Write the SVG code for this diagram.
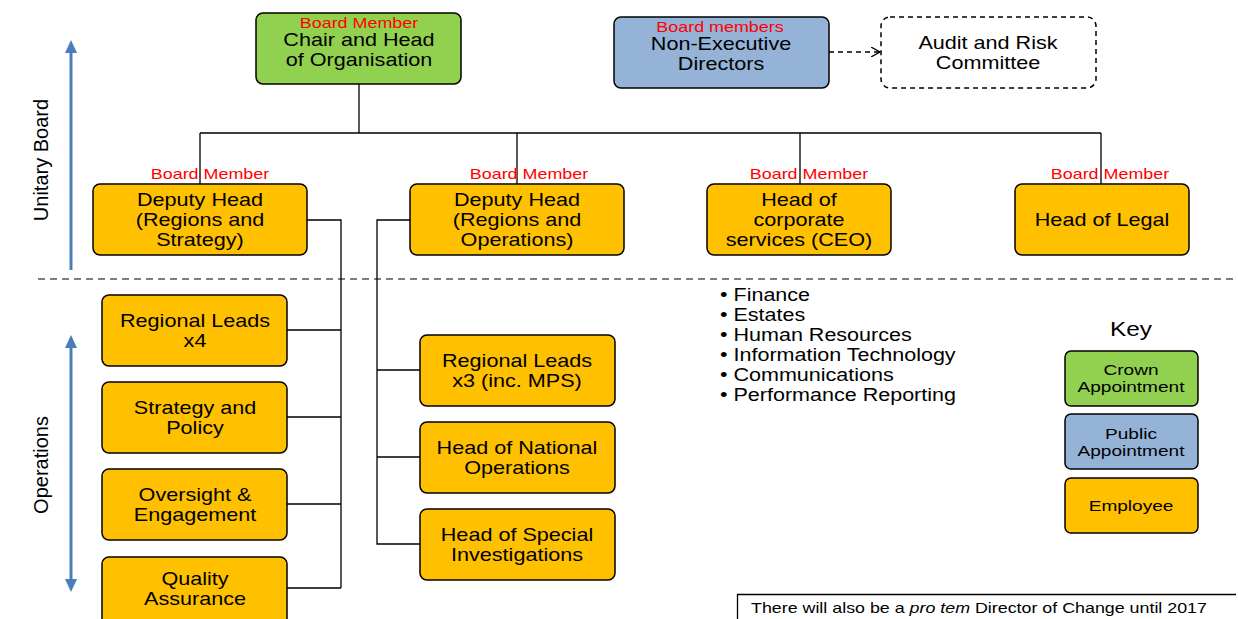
<svg xmlns="http://www.w3.org/2000/svg" width="1238" height="619" viewBox="0 0 1238 619">
<defs>
<style>
text{font-family:"Liberation Sans",Arial,sans-serif;fill:#000}
.t{font-size:18px;text-anchor:middle}
.bm{font-size:14px;fill:#ff0000;text-anchor:middle}
.k{font-size:14px;text-anchor:middle}
.li{font-size:17.5px}
.box{stroke:#000;stroke-width:1.5}
.g{fill:#92d050}
.b{fill:#95b3d7}
.o{fill:#ffc000}
.ln{stroke:#000;stroke-width:1.3;fill:none}
</style>
<marker id="ah" markerWidth="10" markerHeight="10" refX="8" refY="5" orient="auto" markerUnits="userSpaceOnUse">
<path d="M0,0 L9,5 L0,10" fill="none" stroke="#000" stroke-width="1.3"/>
</marker>
<marker id="blue" markerWidth="14" markerHeight="14" refX="7" refY="7" orient="auto" markerUnits="userSpaceOnUse">
<path d="M0,1 L13,7 L0,13 Z" fill="#4a7ebb"/>
</marker>
<marker id="blueS" markerWidth="14" markerHeight="14" refX="7" refY="7" orient="auto-start-reverse" markerUnits="userSpaceOnUse">
<path d="M0,1 L13,7 L0,13 Z" fill="#4a7ebb"/>
</marker>
</defs>
<rect width="1238" height="619" fill="#fff"/>

<g id="sections">
<line x1="38" y1="279" x2="1238" y2="279" stroke="#555" stroke-width="1.3" stroke-dasharray="7,5"/>
<line x1="71" y1="270" x2="71" y2="46" stroke="#4a7ebb" stroke-width="3" marker-end="url(#blue)"/>
<line x1="71" y1="341" x2="71" y2="586" stroke="#4a7ebb" stroke-width="3" marker-start="url(#blueS)" marker-end="url(#blueS)"/>
<text x="43" y="160" font-size="20" text-anchor="middle" dominant-baseline="middle" transform="rotate(-90 43 160)">Unitary Board</text>
<text x="43" y="465" font-size="20" text-anchor="middle" dominant-baseline="middle" transform="rotate(-90 43 465)">Operations</text>
</g>

<g id="connectors">
<path class="ln" d="M359,84 V133 M200,133 H1101 M200,133 V184 M517,133 V184 M800,133 V184 M1101,133 V184"/>
<path class="ln" d="M307,220 H341 V588 M287,330 H341 M287,417 H341 M287,504 H341 M287,588 H341"/>
<path class="ln" d="M410,220 H377 V544 H420 M377,370 H420 M377,457 H420"/>
<line x1="829" y1="52" x2="879" y2="52" stroke="#000" stroke-width="1.5" stroke-dasharray="5,4" marker-end="url(#ah)"/>
</g>

<g id="chair">
<rect class="box g" x="256" y="13" width="205" height="71" rx="7"/>
<text class="bm" x="0" y="28" transform="translate(359,0) scale(1.28,1)">Board Member</text>
<text class="t" x="0" y="46" transform="translate(359,0) scale(1.2,1)">Chair and Head</text>
<text class="t" x="0" y="66" transform="translate(359,0) scale(1.2,1)">of Organisation</text>
</g>
<g id="ned">
<rect class="box b" x="614" y="17" width="215" height="71" rx="7"/>
<text class="bm" x="0" y="32" transform="translate(720,0) scale(1.28,1)">Board members</text>
<text class="t" x="0" y="50" transform="translate(721,0) scale(1.2,1)">Non-Executive</text>
<text class="t" x="0" y="70" transform="translate(721,0) scale(1.2,1)">Directors</text>
</g>
<g id="audit">
<rect x="881" y="17" width="215" height="71" rx="9" fill="#fff" stroke="#000" stroke-width="1.5" stroke-dasharray="5,4"/>
<text class="t" x="0" y="49" transform="translate(988,0) scale(1.2,1)">Audit and Risk</text>
<text class="t" x="0" y="69" transform="translate(988,0) scale(1.2,1)">Committee</text>
</g>

<g id="dh1">
<text class="bm" x="0" y="179" transform="translate(210,0) scale(1.28,1)">Board Member</text>
<rect class="box o" x="93" y="184" width="214" height="71" rx="7"/>
<text class="t" x="0" y="206" transform="translate(200,0) scale(1.2,1)">Deputy Head</text>
<text class="t" x="0" y="226" transform="translate(200,0) scale(1.2,1)">(Regions and</text>
<text class="t" x="0" y="246" transform="translate(200,0) scale(1.2,1)">Strategy)</text>
</g>
<g id="dh2">
<text class="bm" x="0" y="179" transform="translate(529,0) scale(1.28,1)">Board Member</text>
<rect class="box o" x="410" y="184" width="214" height="71" rx="7"/>
<text class="t" x="0" y="206" transform="translate(517,0) scale(1.2,1)">Deputy Head</text>
<text class="t" x="0" y="226" transform="translate(517,0) scale(1.2,1)">(Regions and</text>
<text class="t" x="0" y="246" transform="translate(517,0) scale(1.2,1)">Operations)</text>
</g>
<g id="hcs">
<text class="bm" x="0" y="179" transform="translate(809,0) scale(1.28,1)">Board Member</text>
<rect class="box o" x="707" y="184" width="184" height="71" rx="7"/>
<text class="t" x="0" y="206" transform="translate(799,0) scale(1.2,1)">Head of</text>
<text class="t" x="0" y="226" transform="translate(799,0) scale(1.2,1)">corporate</text>
<text class="t" x="0" y="246" transform="translate(799,0) scale(1.2,1)">services (CEO)</text>
</g>
<g id="hol">
<text class="bm" x="0" y="179" transform="translate(1110,0) scale(1.28,1)">Board Member</text>
<rect class="box o" x="1015" y="184" width="174" height="71" rx="7"/>
<text class="t" x="0" y="226" transform="translate(1102,0) scale(1.2,1)">Head of Legal</text>
</g>

<g id="rl4">
<rect class="box o" x="102" y="295" width="185" height="71" rx="7"/>
<text class="t" x="0" y="327" transform="translate(195,0) scale(1.2,1)">Regional Leads</text>
<text class="t" x="0" y="347" transform="translate(195,0) scale(1.2,1)">x4</text>
</g>
<g id="strategy">
<rect class="box o" x="102" y="382" width="185" height="71" rx="7"/>
<text class="t" x="0" y="414" transform="translate(195,0) scale(1.2,1)">Strategy and</text>
<text class="t" x="0" y="434" transform="translate(195,0) scale(1.2,1)">Policy</text>
</g>
<g id="oversight">
<rect class="box o" x="102" y="469" width="185" height="71" rx="7"/>
<text class="t" x="0" y="501" transform="translate(195,0) scale(1.2,1)">Oversight &amp;</text>
<text class="t" x="0" y="521" transform="translate(195,0) scale(1.2,1)">Engagement</text>
</g>
<g id="quality">
<rect class="box o" x="102" y="557" width="185" height="71" rx="7"/>
<text class="t" x="0" y="585" transform="translate(195,0) scale(1.2,1)">Quality</text>
<text class="t" x="0" y="605" transform="translate(195,0) scale(1.2,1)">Assurance</text>
</g>

<g id="rl3">
<rect class="box o" x="420" y="335" width="195" height="71" rx="7"/>
<text class="t" x="0" y="367" transform="translate(517,0) scale(1.2,1)">Regional Leads</text>
<text class="t" x="0" y="387" transform="translate(517,0) scale(1.2,1)">x3 (inc. MPS)</text>
</g>
<g id="hno">
<rect class="box o" x="420" y="422" width="195" height="71" rx="7"/>
<text class="t" x="0" y="454" transform="translate(517,0) scale(1.2,1)">Head of National</text>
<text class="t" x="0" y="474" transform="translate(517,0) scale(1.2,1)">Operations</text>
</g>
<g id="hsi">
<rect class="box o" x="420" y="509" width="195" height="71" rx="7"/>
<text class="t" x="0" y="541" transform="translate(517,0) scale(1.2,1)">Head of Special</text>
<text class="t" x="0" y="561" transform="translate(517,0) scale(1.2,1)">Investigations</text>
</g>

<g id="services" transform="translate(720,0) scale(1.23,1)">
<text class="li" x="0" y="301">• Finance</text>
<text class="li" x="0" y="321">• Estates</text>
<text class="li" x="0" y="341">• Human Resources</text>
<text class="li" x="0" y="361">• Information Technology</text>
<text class="li" x="0" y="381">• Communications</text>
<text class="li" x="0" y="401">• Performance Reporting</text>
</g>

<g id="key">
<text x="0" y="336" font-size="20" text-anchor="middle" transform="translate(1131,0) scale(1.22,1)">Key</text>
<rect class="box g" x="1065" y="351" width="133" height="55" rx="6"/>
<text class="k" x="0" y="375" transform="translate(1131,0) scale(1.36,1)">Crown</text>
<text class="k" x="0" y="392" transform="translate(1131,0) scale(1.36,1)">Appointment</text>
<rect class="box b" x="1065" y="414" width="133" height="55" rx="6"/>
<text class="k" x="0" y="439" transform="translate(1131,0) scale(1.36,1)">Public</text>
<text class="k" x="0" y="456" transform="translate(1131,0) scale(1.36,1)">Appointment</text>
<rect class="box o" x="1065" y="478" width="133" height="55" rx="6"/>
<text class="k" x="0" y="511" transform="translate(1131,0) scale(1.36,1)">Employee</text>
</g>

<g id="note">
<path d="M737.5,619 V594.5 H1236" fill="none" stroke="#000" stroke-width="1.3"/>
<text x="0" y="613" font-size="14.5" transform="translate(751,0) scale(1.23,1)">There will also be a <tspan font-style="italic">pro tem</tspan> Director of Change until 2017</text>
</g>
</svg>
